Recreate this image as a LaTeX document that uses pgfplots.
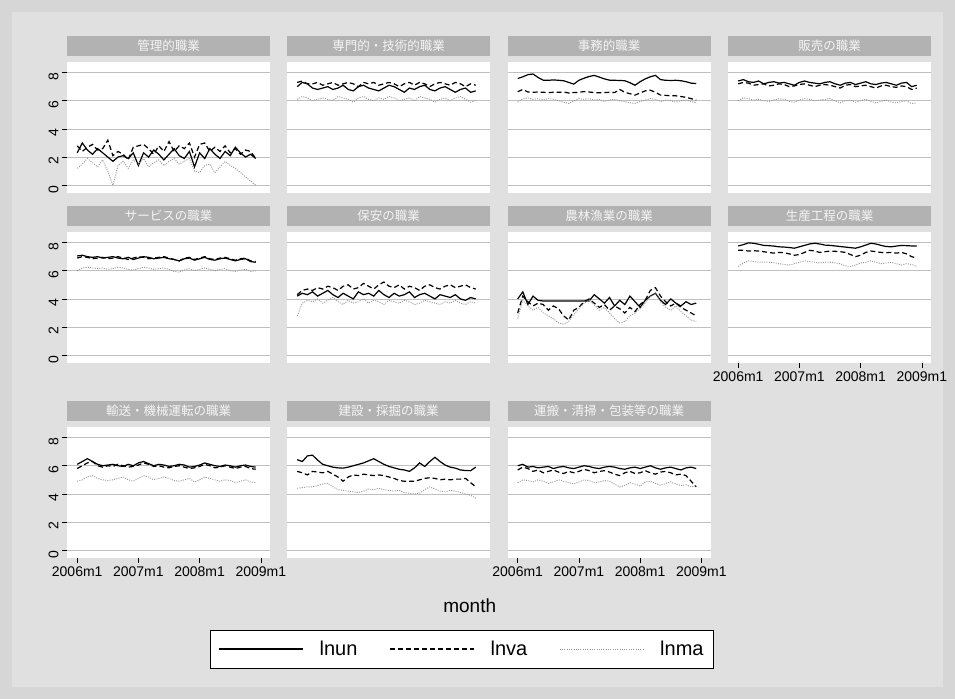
\documentclass[border=0pt]{standalone}
\usepackage{fontspec}
\setmainfont{Liberation Sans}
\newfontfamily\cjk{Noto Sans CJK JP}
\usepackage{pgfplots}
\usepackage{pgfplotstable}
\pgfplotsset{compat=1.18}
\definecolor{bgout}{RGB}{214,214,214}
\definecolor{bgin}{RGB}{224,224,224}
\definecolor{barc}{RGB}{178,178,178}
\definecolor{gridc}{RGB}{192,192,192}
\definecolor{dotc}{RGB}{150,150,150}
\tikzset{
 lun/.style={black, line width=1.2pt, solid},
 lva/.style={black, line width=1.2pt, dash pattern=on 5pt off 3pt},
 lma/.style={dotc, line width=0.9pt, dash pattern=on 1pt off 1.3pt},
}
\pgfplotsset{
 panel/.style={
  scale only axis, width=203pt, height=131pt, anchor=south west,
  xmin=-2, xmax=37.8, ymin=-0.55, ymax=8.75,
  axis background/.style={fill=white},
  axis line style={draw=none},
  xtick={0,12,24,36}, ytick={0,2,4,6,8},
  xticklabels={}, yticklabels={},
  ymajorgrids, grid style={gridc, line width=0.7pt},
  major tick length=5pt, tick align=outside,
  xtick pos=bottom, ytick pos=left,
  xtick style={draw=none}, ytick style={draw=none},
  title style={at={(0.5,1)}, anchor=south, yshift=0pt, fill=barc,
    minimum width=203pt, minimum height=20pt, inner sep=0pt,
    text=white!96!black, font=\cjk\fontsize{12.5}{14}\selectfont},
  /pgf/number format/assume math mode=true,
  ticklabel style={font=\fontsize{14}{16}\selectfont},
 },
 ylab/.style={yticklabels={0,2,4,6,8}, ytick style={draw=black, line width=0.6pt},
   yticklabel style={rotate=90, anchor=south, xshift=-4pt}},
 xlab/.style={xticklabels={2006m1,2007m1,2008m1,2009m1}, xtick style={draw=black, line width=0.6pt}},
 legimg/.style={legend image code/.code={\draw[##1] (0pt,0pt) -- (84pt,0pt); \path (98pt,0pt);}},
}
\newcommand{\panel}[5]{%
 \begin{axis}[panel, at={(#1pt,#2pt)}, title={#3}, #5]
 \addplot[lun] table[x=m,y=un]{#4};
 \addplot[lva] table[x=m,y=va]{#4};
 \addplot[lma] table[x=m,y=ma]{#4};
 \end{axis}}

\pgfplotstableread{
m un va ma
0 2.3 2.8 1.2
1 3.0 2.4 1.5
2 2.5 2.7 1.9
3 2.2 2.9 1.6
4 2.6 2.5 1.3
5 2.3 2.6 1.8
6 2.0 3.2 1.0
7 1.7 2.1 0.0
8 2.0 2.4 1.4
9 2.1 2.2 1.7
10 1.9 1.8 1.2
11 2.3 2.7 1.8
12 1.4 2.8 1.5
13 2.3 2.9 1.9
14 2.0 2.6 1.3
15 2.5 2.2 1.6
16 2.2 2.8 1.8
17 1.8 2.4 1.4
18 2.2 3.1 1.7
19 2.6 2.4 1.9
20 2.1 2.8 1.5
21 1.9 2.6 1.7
22 2.4 3.0 1.9
23 1.3 2.0 1.0
24 2.3 2.9 0.9
25 1.9 3.0 1.4
26 2.6 2.4 1.5
27 2.2 2.7 0.9
28 1.9 2.4 1.3
29 2.4 2.8 1.7
30 2.1 2.3 1.4
31 2.7 2.6 1.2
32 2.3 2.2 0.9
33 2.0 2.5 0.6
34 2.2 2.4 0.3
35 1.9 1.9 0.0
}\tA
\pgfplotstableread{
m un va ma
0 7.0 7.3 6.1
1 7.3 7.4 6.3
2 7.2 7.2 6.2
3 6.9 7.2 6.0
4 6.8 7.3 6.1
5 6.9 7.1 6.2
6 7.0 7.2 6.1
7 6.8 7.3 6.0
8 6.9 7.1 6.3
9 7.1 7.2 6.2
10 6.8 7.3 6.1
11 6.7 7.2 5.9
12 7.0 7.0 6.2
13 7.1 7.3 6.3
14 6.9 7.2 6.1
15 6.8 7.3 6.0
16 6.7 7.1 6.2
17 6.9 7.2 6.1
18 7.1 7.3 6.3
19 7.0 7.2 6.2
20 6.8 7.0 6.0
21 6.6 7.2 6.1
22 6.9 7.3 6.2
23 6.8 7.1 6.0
24 7.0 7.3 6.3
25 7.1 7.2 6.2
26 6.8 7.0 6.1
27 6.7 7.2 5.9
28 6.9 7.3 6.1
29 7.0 7.2 6.2
30 6.8 7.1 6.0
31 6.6 7.3 6.2
32 6.8 7.2 6.3
33 6.9 7.0 6.1
34 6.6 7.2 5.9
35 6.7 7.1 6.0
}\tB
\pgfplotstableread{
m un va ma
0 7.58 6.64 5.9
1 7.7 6.8 6.15
2 7.85 6.62 6.2
3 7.9 6.6 6.1
4 7.65 6.62 6.15
5 7.46 6.6 6.05
6 7.45 6.58 6.15
7 7.48 6.6 6.1
8 7.45 6.6 6.0
9 7.42 6.62 5.9
10 7.3 6.55 5.8
11 7.18 6.58 6.0
12 7.45 6.6 6.15
13 7.6 6.65 6.1
14 7.72 6.62 6.15
15 7.8 6.58 6.05
16 7.68 6.56 6.1
17 7.55 6.58 5.95
18 7.46 6.6 6.05
19 7.45 6.58 6.1
20 7.44 6.8 6.0
21 7.42 6.6 5.95
22 7.28 6.5 5.85
23 7.1 6.4 5.8
24 7.35 6.55 5.95
25 7.55 6.7 6.05
26 7.7 6.75 6.15
27 7.8 6.6 6.1
28 7.5 6.4 5.95
29 7.45 6.38 6.05
30 7.44 6.35 6.0
31 7.45 6.35 5.9
32 7.42 6.3 6.0
33 7.35 6.24 6.05
34 7.25 6.15 5.95
35 7.22 6.05 5.85
}\tC
\pgfplotstableread{
m un va ma
0 7.4 7.2 6.0
1 7.5 7.3 6.2
2 7.35 7.25 6.15
3 7.3 7.1 6.05
4 7.4 7.15 6.1
5 7.2 7.2 6.0
6 7.3 7.05 5.95
7 7.35 7.1 6.05
8 7.25 7.2 6.15
9 7.3 7.15 6.1
10 7.2 7.0 5.95
11 7.1 7.05 5.9
12 7.3 7.15 6.05
13 7.4 7.2 6.15
14 7.3 7.1 6.1
15 7.25 7.0 6.0
16 7.2 7.1 6.05
17 7.3 7.15 6.1
18 7.35 7.1 6.15
19 7.2 7.0 6.0
20 7.1 6.9 5.85
21 7.25 7.1 6.0
22 7.3 7.15 6.05
23 7.15 7.0 5.9
24 7.25 7.05 6.0
25 7.35 7.1 6.1
26 7.2 7.0 5.95
27 7.15 6.9 5.85
28 7.25 7.05 5.95
29 7.3 7.1 6.05
30 7.2 7.0 5.9
31 7.1 6.95 5.85
32 7.25 7.05 5.95
33 7.3 7.0 6.0
34 7.0 6.8 5.8
35 7.1 6.9 5.85
}\tD
\pgfplotstableread{
m un va ma
0 7.05 6.9 6.0
1 7.1 7.0 6.2
2 7.0 6.95 6.25
3 6.95 6.85 6.2
4 7.0 6.9 6.15
5 6.9 6.95 6.2
6 6.95 6.85 6.1
7 7.0 6.9 6.15
8 6.9 7.0 6.25
9 6.85 6.9 6.2
10 6.95 6.8 6.1
11 6.8 6.9 6.05
12 6.9 7.0 6.15
13 7.0 6.95 6.25
14 6.95 6.85 6.2
15 6.85 6.9 6.1
16 6.9 6.95 6.15
17 6.95 7.0 6.2
18 6.85 6.9 6.1
19 6.8 6.8 5.95
20 6.7 6.7 5.9
21 6.85 6.9 6.05
22 6.9 6.95 6.15
23 6.75 6.8 6.0
24 6.85 6.9 6.1
25 6.95 7.0 6.2
26 6.8 6.85 6.1
27 6.75 6.8 6.0
28 6.85 6.9 6.1
29 6.9 6.95 6.15
30 6.8 6.85 6.0
31 6.7 6.75 5.95
32 6.8 6.85 6.05
33 6.85 6.9 6.1
34 6.65 6.7 5.95
35 6.6 6.65 6.0
}\tE
\pgfplotstableread{
m un va ma
0 4.2 4.3 2.8
1 4.4 4.6 3.7
2 4.3 4.7 3.9
3 4.5 4.6 3.8
4 4.2 4.8 4.0
5 4.4 4.7 3.7
6 4.6 4.9 3.9
7 4.3 4.8 4.1
8 4.1 4.6 3.8
9 4.4 4.9 3.6
10 4.2 5.0 3.9
11 4.0 4.7 3.7
12 4.5 4.8 3.8
13 4.3 5.1 4.0
14 4.4 4.9 3.7
15 4.2 4.7 3.9
16 4.6 5.0 3.8
17 4.3 5.2 3.6
18 4.1 4.9 3.9
19 4.4 4.8 3.8
20 4.2 5.0 3.7
21 4.3 4.7 3.9
22 4.5 4.9 3.8
23 4.1 4.8 3.6
24 4.3 4.6 3.7
25 4.4 4.9 3.9
26 4.2 5.0 3.8
27 4.0 4.8 3.7
28 4.3 4.7 3.6
29 4.2 4.9 3.8
30 4.1 5.0 3.7
31 4.3 4.8 3.9
32 4.0 4.9 3.7
33 3.9 5.0 3.6
34 4.1 4.8 3.8
35 4.0 4.7 3.7
}\tF
\pgfplotstableread{
m un va ma
0 4.0 3.0 2.6
1 4.5 4.2 3.9
2 3.6 3.8 3.5
3 4.2 3.5 3.2
4 3.9 3.7 3.4
5 3.85 3.6 3.0
6 3.85 3.2 2.8
7 3.85 3.5 2.6
8 3.85 3.3 2.3
9 3.85 2.8 2.2
10 3.85 2.5 2.4
11 3.85 3.2 2.9
12 3.85 3.4 3.3
13 3.85 3.8 3.7
14 3.85 4.0 3.9
15 4.3 3.7 3.6
16 4.0 3.4 3.2
17 3.7 3.6 3.4
18 4.1 3.2 3.0
19 3.5 3.5 2.6
20 3.9 3.3 2.3
21 3.6 3.0 2.4
22 4.2 3.4 2.8
23 3.8 3.1 3.0
24 3.4 3.6 3.3
25 3.9 3.9 3.7
26 4.2 4.6 4.2
27 4.4 4.8 4.4
28 3.9 4.2 3.8
29 3.6 3.8 3.4
30 4.0 3.5 3.2
31 3.7 3.7 3.5
32 3.5 3.4 3.1
33 3.8 3.2 2.8
34 3.6 3.0 2.5
35 3.7 2.8 2.4
}\tG
\pgfplotstableread{
m un va ma
0 7.76 7.45 6.3
1 7.85 7.45 6.55
2 7.98 7.4 6.7
3 7.95 7.42 6.65
4 7.88 7.4 6.6
5 7.8 7.35 6.62
6 7.78 7.3 6.6
7 7.75 7.25 6.58
8 7.7 7.3 6.5
9 7.68 7.28 6.45
10 7.65 7.2 6.4
11 7.6 7.1 6.5
12 7.7 7.15 6.6
13 7.8 7.3 6.7
14 7.9 7.45 6.65
15 7.95 7.4 6.6
16 7.9 7.3 6.55
17 7.82 7.35 6.62
18 7.8 7.4 6.6
19 7.76 7.38 6.55
20 7.72 7.35 6.5
21 7.68 7.3 6.35
22 7.64 7.15 6.3
23 7.6 7.0 6.4
24 7.7 7.1 6.55
25 7.82 7.3 6.6
26 7.95 7.4 6.7
27 7.9 7.35 6.6
28 7.8 7.3 6.5
29 7.72 7.28 6.55
30 7.7 7.3 6.6
31 7.75 7.25 6.5
32 7.8 7.3 6.4
33 7.78 7.2 6.5
34 7.76 7.0 6.45
35 7.75 6.9 6.3
}\tH
\pgfplotstableread{
m un va ma
0 6.1 5.8 4.9
1 6.3 6.0 5.0
2 6.5 6.2 5.2
3 6.3 6.3 5.3
4 6.1 6.0 5.1
5 6.0 5.9 5.0
6 6.05 6.0 4.95
7 6.1 5.95 5.0
8 6.0 6.1 5.1
9 5.95 6.0 5.2
10 6.1 5.9 5.0
11 6.0 5.95 4.9
12 6.2 6.05 5.1
13 6.3 6.2 5.3
14 6.15 6.1 5.2
15 6.0 5.95 5.0
16 6.1 6.0 5.1
17 6.05 5.9 5.2
18 5.95 5.85 5.1
19 6.0 5.95 4.95
20 6.1 6.0 4.9
21 6.05 5.9 5.0
22 5.9 5.8 5.1
23 5.95 5.85 4.85
24 6.05 5.95 5.0
25 6.2 6.1 5.2
26 6.1 6.0 5.1
27 6.0 5.85 5.0
28 5.95 5.9 4.9
29 6.05 6.0 5.0
30 6.0 5.9 4.95
31 5.9 5.8 4.8
32 6.0 5.9 4.9
33 6.05 5.95 5.0
34 5.95 5.8 4.85
35 5.9 5.75 4.8
}\tI
\pgfplotstableread{
m un va ma
0 6.43 5.6 4.4
1 6.3 5.5 4.45
2 6.7 5.35 4.5
3 6.75 5.6 4.5
4 6.4 5.55 4.6
5 6.1 5.5 4.7
6 6.0 5.6 4.75
7 5.9 5.4 4.5
8 5.85 5.2 4.3
9 5.83 4.9 4.25
10 5.9 5.2 4.2
11 6.0 5.35 4.15
12 6.1 5.3 4.1
13 6.2 5.4 4.2
14 6.35 5.35 4.35
15 6.5 5.3 4.3
16 6.3 5.35 4.4
17 6.1 5.3 4.3
18 5.95 5.2 4.25
19 5.85 5.1 4.2
20 5.75 4.95 4.25
21 5.7 4.9 4.1
22 5.6 4.9 4.05
23 5.85 4.9 4.0
24 6.2 5.0 4.05
25 5.95 5.1 4.3
26 6.3 5.15 4.5
27 6.6 5.1 4.35
28 6.3 5.0 4.2
29 6.05 5.05 4.15
30 5.9 5.0 4.25
31 5.83 5.05 4.2
32 5.7 5.05 4.1
33 5.66 5.1 4.0
34 5.65 4.8 3.9
35 5.9 4.5 3.7
}\tJ
\pgfplotstableread{
m un va ma
0 6.0 5.7 4.8
1 6.1 5.9 5.0
2 5.9 5.8 4.95
3 5.95 5.6 4.85
4 5.85 5.7 5.0
5 5.9 5.5 4.9
6 5.95 5.6 4.75
7 5.8 5.7 4.85
8 5.9 5.55 5.0
9 5.95 5.45 4.9
10 5.85 5.6 4.8
11 5.8 5.5 4.7
12 5.9 5.6 4.85
13 6.0 5.75 5.0
14 5.95 5.65 4.95
15 5.85 5.5 4.8
16 5.8 5.6 4.85
17 5.9 5.65 4.95
18 5.95 5.55 4.9
19 5.9 5.4 4.7
20 5.8 5.3 4.5
21 5.75 5.5 4.6
22 5.85 5.6 4.8
23 5.9 5.45 4.7
24 5.8 5.5 4.55
25 5.9 5.65 4.85
26 6.0 5.5 4.9
27 5.85 5.4 4.75
28 5.75 5.55 4.6
29 5.85 5.6 4.75
30 5.9 5.5 4.85
31 5.8 5.35 4.7
32 5.7 5.4 4.6
33 5.85 5.3 4.65
34 5.9 4.9 4.5
35 5.8 4.5 4.6
}\tK

\begin{document}
\begin{tikzpicture}
\fill[bgout] (0pt,0pt) rectangle (955pt,699pt);
\fill[bgin] (12pt,12pt) rectangle (943pt,687pt);
% row 1
\panel{67}{506}{管理的職業}{\tA}{ylab}
\panel{287}{506}{専門的・技術的職業}{\tB}{}
\panel{507.5}{506}{事務的職業}{\tC}{}
\panel{728}{506}{販売の職業}{\tD}{}
% row 2
\panel{67}{336}{サービスの職業}{\tE}{ylab}
\panel{287}{336}{保安の職業}{\tF}{}
\panel{507.5}{336}{農林漁業の職業}{\tG}{}
\panel{728}{336}{生産工程の職業}{\tH}{xlab}
% row 3
\panel{67}{141}{輸送・機械運転の職業}{\tI}{ylab,xlab}
\panel{287}{141}{建設・採掘の職業}{\tJ}{%
  xlabel={month}, xlabel style={at={(0.90,-0.366)}, anchor=center, font=\fontsize{19}{21}\selectfont},
  legend entries={lnun,lnva,lnma},
  legend columns=3, legimg,
  legend style={at={(0.862,-0.695)}, anchor=center, draw=black, line width=0.8pt, fill=white,
    font=\fontsize{20}{22}\selectfont, inner xsep=8pt, inner ysep=9pt,
    /tikz/every even column/.append style={column sep=30pt}}}
\panel{507.5}{141}{運搬・清掃・包装等の職業}{\tK}{xlab}
\end{tikzpicture}
\end{document}
